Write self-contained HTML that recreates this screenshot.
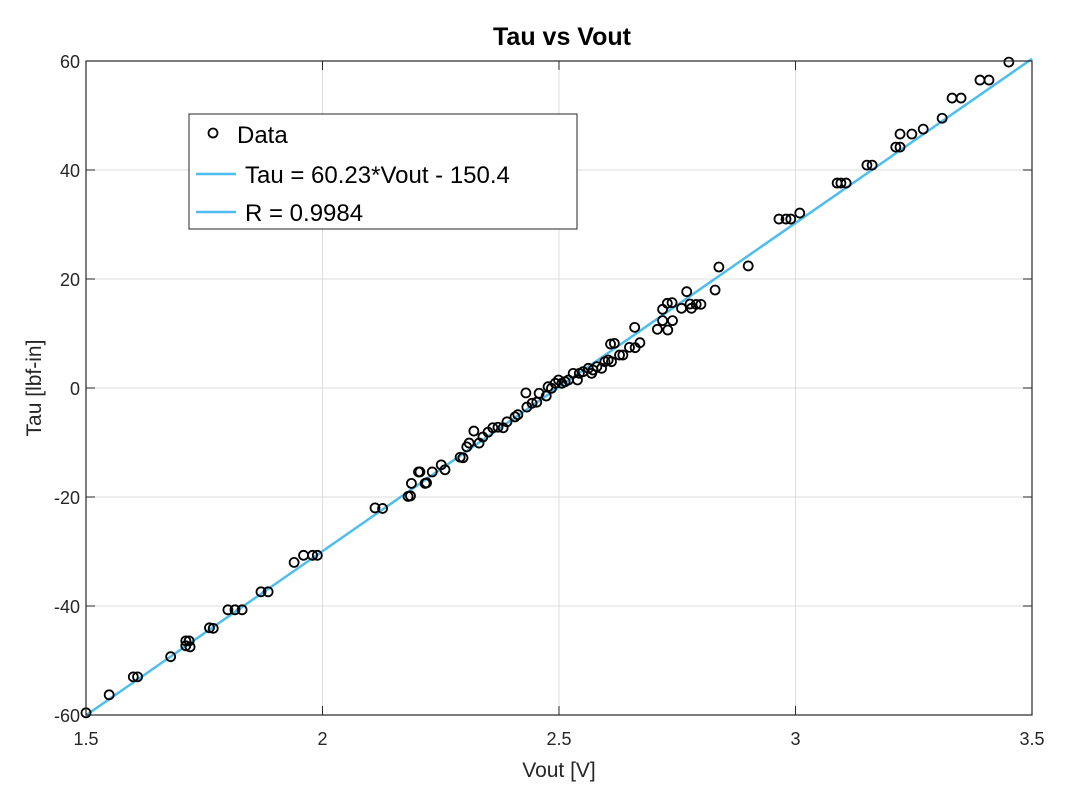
<!DOCTYPE html>
<html><head><meta charset="utf-8"><style>
html,body{margin:0;padding:0;background:#fff;}
svg{display:block;font-family:"Liberation Sans",Arial,sans-serif;}
</style></head><body>
<svg id="chart" width="1081" height="802" viewBox="0 0 1081 802" xmlns="http://www.w3.org/2000/svg">
<rect x="0" y="0" width="1081" height="802" fill="#fff"/>
<g id="grid"></g>
<g id="fitline"></g>
<g id="points"></g>
<g id="axes"></g>
<text x="562" y="45" text-anchor="middle" font-size="25" font-weight="bold" fill="#000">Tau vs Vout</text>
<text x="559" y="777" text-anchor="middle" font-size="21" fill="#262626">Vout [V]</text>
<text transform="translate(41,388) rotate(-90)" text-anchor="middle" font-size="21" fill="#262626">Tau [lbf-in]</text>
<g>
<rect x="189" y="114" width="388" height="115" fill="#fff" stroke="#262626" stroke-width="1"/>
<circle cx="213" cy="133" r="4.5" fill="none" stroke="#000" stroke-width="1.8"/>
<text x="237" y="143" font-size="24" fill="#000">Data</text>
<line x1="196" y1="174" x2="236" y2="174" stroke="#4DBEEE" stroke-width="2.5"/>
<text x="245" y="183" font-size="24" fill="#000">Tau = 60.23*Vout - 150.4</text>
<line x1="196" y1="212" x2="236" y2="212" stroke="#4DBEEE" stroke-width="2.5"/>
<text x="245" y="221" font-size="24" fill="#000">R = 0.9984</text>
</g>
</svg>
<script>
const xTicks = [1.5, 2, 2.5, 3, 3.5];
const yTicks = [-60, -40, -20, 0, 20, 40, 60];
const fitSlope = 60.23;
const fitIntercept = -150.4;
const vout = [1.5,1.549,1.600,1.609,1.679,1.711,1.718,1.711,1.720,1.761,1.769,1.800,1.815,1.830,1.870,1.885,1.940,1.960,1.979,1.989,2.111,2.127,2.181,2.186,2.188,2.203,2.217,2.220,
2.206,2.232,2.251,2.259,2.291,2.297,2.305,2.310,2.320,2.331,2.339,2.350,2.360,2.371,2.382,2.390,2.407,2.413,2.430,2.432,2.443,2.453,
2.458,2.473,2.477,2.484,2.492,2.499,2.506,2.513,2.520,2.530,2.539,2.543,2.551,2.562,2.569,2.572,2.580,2.590,2.597,2.604,2.611,2.609,2.617,2.628,2.635,2.649,2.661,2.660,2.671,2.708,2.719,2.730,2.740,2.719,2.729,2.739,2.759,2.780,2.777,2.790,2.800,2.770,2.830,
2.838,2.900,2.965,2.980,2.990,3.009,3.088,3.096,3.107,3.151,3.162,3.212,3.221,3.221,3.246,3.270,3.310,3.331,3.350,3.390,3.409,3.451];
const tau = [-59.6,-56.3,-53.0,-53.0,-49.3,-46.4,-46.4,-47.3,-47.5,-44.0,-44.1,-40.7,-40.7,-40.7,-37.4,-37.4,-32.0,-30.7,-30.7,-30.7,-22.0,-22.1,-19.9,-19.8,-17.5,-15.4,-17.5,-17.4,
-15.4,-15.4,-14.1,-15.0,-12.7,-12.8,-10.8,-10.1,-7.9,-10.1,-9.0,-8.1,-7.3,-7.2,-7.3,-6.2,-5.3,-4.9,-0.9,-3.5,-2.8,-2.6,
-0.97,-1.47,0.24,-0.06,0.86,1.47,0.86,1.16,1.47,2.69,1.47,2.69,2.99,3.61,2.69,3.30,3.91,3.61,4.83,5.14,4.83,8.07,8.19,6.05,6.05,7.46,7.40,11.13,8.31,10.77,12.36,10.64,12.36,14.44,15.54,15.66,14.62,14.62,15.41,15.35,15.35,17.67,17.98,
22.2,22.4,31.0,31.0,31.0,32.1,37.6,37.6,37.6,40.9,40.9,44.2,44.2,46.6,46.6,47.5,49.5,53.2,53.2,56.5,56.5,59.8];

const NS = "http://www.w3.org/2000/svg";
const L = 86, R = 1032, T = 61, B = 715;
const xMin = 1.5, xMax = 3.5, yMin = -60, yMax = 60;
function sx(v){ return L + (v - xMin) / (xMax - xMin) * (R - L); }
function sy(v){ return B - (v - yMin) / (yMax - yMin) * (B - T); }
function mk(tag, attrs, parent){
  const e = document.createElementNS(NS, tag);
  for (const k in attrs) e.setAttribute(k, attrs[k]);
  parent.appendChild(e);
  return e;
}
const grid = document.getElementById('grid');
const axes = document.getElementById('axes');
const pts = document.getElementById('points');
const fit = document.getElementById('fitline');

xTicks.forEach(t => {
  const x = sx(t);
  const g = mk('line', {x1:x, y1:T, x2:x, y2:B, stroke:'#dcdcdc', 'stroke-width':1}, grid);
  
  
  mk('line', {x1:x, y1:B, x2:x, y2:B-9, stroke:'#262626', 'stroke-width':1}, axes);
  mk('line', {x1:x, y1:T, x2:x, y2:T+9, stroke:'#262626', 'stroke-width':1}, axes);
  const lb = mk('text', {x:x, y:B+30, 'text-anchor':'middle', 'font-size':18, fill:'#262626'}, axes);
  lb.textContent = String(t);
  
  
});
yTicks.forEach(t => {
  const y = sy(t);
  const g = mk('line', {x1:L, y1:y, x2:R, y2:y, stroke:'#dcdcdc', 'stroke-width':1}, grid);
  
  
  mk('line', {x1:L, y1:y, x2:L+9, y2:y, stroke:'#262626', 'stroke-width':1}, axes);
  mk('line', {x1:R, y1:y, x2:R-9, y2:y, stroke:'#262626', 'stroke-width':1}, axes);
  const lb = mk('text', {x:L-6, y:y+7, 'text-anchor':'end', 'font-size':18, fill:'#262626'}, axes);
  lb.textContent = String(t);
  
  
});
const box = mk('rect', {x:L, y:T, width:R-L, height:B-T, fill:'none', stroke:'#262626', 'stroke-width':1.2}, axes);



const fl = mk('line', {x1:sx(xMin), y1:sy(fitSlope*xMin+fitIntercept), x2:sx(xMax), y2:sy(fitSlope*xMax+fitIntercept), stroke:'#4DBEEE', 'stroke-width':2.5}, fit);



for (let i = 0; i < vout.length; i++) {
  const c = mk('circle', {cx:sx(vout[i]), cy:sy(tau[i]), r:4.5, fill:'none', stroke:'#000', 'stroke-width':1.8}, pts);
  
  
}
</script>
</body></html>
